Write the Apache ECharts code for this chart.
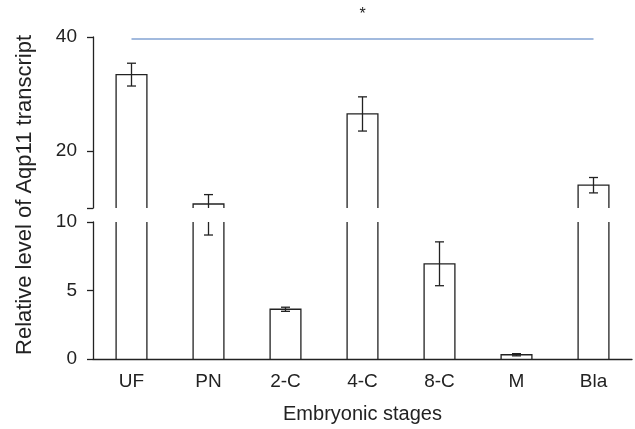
<!DOCTYPE html>
<html>
<head>
<meta charset="utf-8">
<script src="https://cdn.jsdelivr.net/npm/echarts@6/dist/echarts.min.js"></script>
<style>
  html, body { margin: 0; padding: 0; background: #fff; }
  #app { width: 635px; height: 429px; }
</style>
</head>
<body>
<div id="app"></div>
<script>
// 数据
const stages = ['UF', 'PN', '2-C', '4-C', '8-C', 'M', 'Bla'];
const means = [33.4, 10.7, 3.63, 26.5, 6.95, 0.31, 14.0];
const errs = [2.0, 1.65, 0.15, 3.0, 1.6, 0.08, 1.35];
const upperTicks = [10, 20, 40];
const upperLabels = [20, 40];
const lowerTicks = [0, 5, 10];
const sigPair = ['UF', 'Bla'];
const sigLevel = 39.7;

// 断轴范围
const upperMin = 10, upperMax = 40;
const lowerMin = 0, lowerMax = 10;

const ink = '#222';
const font = 'Liberation Sans, Arial, sans-serif';

// 画柱子（只画三条边，断开处不封口）
function barRenderer(min, max) {
    return function(params, api) {
        const i = api.value(0);
        const v = api.value(1);
        if (v <= min) return null;
        const w = api.size([1, 0])[0] * 0.4;
        const base = api.coord([i, min]);
        const top = api.coord([i, Math.min(v, max)]);
        const x0 = base[0] - w / 2, x1 = base[0] + w / 2;
        const style = { stroke: ink, lineWidth: 1.3, fill: 'none' };
        if (v > max) {
            return { type: 'group', children: [
                { type: 'line', shape: { x1: x0, y1: base[1], x2: x0, y2: top[1] }, style: style },
                { type: 'line', shape: { x1: x1, y1: base[1], x2: x1, y2: top[1] }, style: style }
            ] };
        }
        return {
            type: 'polyline',
            shape: { points: [[x0, base[1]], [x0, top[1]], [x1, top[1]], [x1, base[1]]] },
            style: style
        };
    };
}

// 画误差线
function errRenderer(min, max) {
    return function(params, api) {
        const i = api.value(0);
        const lo = api.value(1), hi = api.value(2);
        if (hi <= min || lo >= max) return null;
        const a = api.coord([i, Math.max(lo, min)]);
        const b = api.coord([i, Math.min(hi, max)]);
        const c = 4.5;
        const style = { stroke: ink, lineWidth: 1.3 };
        const kids = [{ type: 'line', shape: { x1: a[0], y1: a[1], x2: b[0], y2: b[1] }, style: style }];
        if (lo >= min) kids.push({ type: 'line', shape: { x1: a[0] - c, y1: a[1], x2: a[0] + c, y2: a[1] }, style: style });
        if (hi <= max) kids.push({ type: 'line', shape: { x1: b[0] - c, y1: b[1], x2: b[0] + c, y2: b[1] }, style: style });
        return { type: 'group', children: kids };
    };
}

const barData = stages.map((s, i) => [i, means[i]]);
const errData = stages.map((s, i) => [i, means[i] - errs[i], means[i] + errs[i]]);

const axisLineStyle = { color: ink, width: 1.3 };

const myChart = echarts.init(document.getElementById('app'));
myChart.setOption({
    animation: false,
    textStyle: { fontFamily: font },
    grid: [
        { left: 93, right: 3, top: 37, height: 171 },
        { left: 93, right: 3, top: 222, height: 137 }
    ],
    xAxis: [
        { gridIndex: 0, type: 'category', data: stages, show: false },
        {
            gridIndex: 1, type: 'category', data: stages,
            axisLine: { lineStyle: axisLineStyle },
            axisTick: { length: 6, lineStyle: axisLineStyle },
            axisLabel: { color: ink, fontSize: 19, margin: 13 },
            name: 'Embryonic stages', nameLocation: 'middle', nameGap: 45,
            nameTextStyle: { color: ink, fontSize: 20 }
        }
    ],
    yAxis: [
        {
            gridIndex: 0, type: 'value', min: upperMin, max: upperMax, interval: 10,
            splitLine: { show: false },
            axisLine: { show: true, lineStyle: axisLineStyle },
            axisTick: { show: true, length: 6, customValues: upperTicks, lineStyle: axisLineStyle },
            axisLabel: { customValues: upperLabels, color: ink, fontSize: 19, margin: 16 }
        },
        {
            gridIndex: 1, type: 'value', min: lowerMin, max: lowerMax, interval: 5,
            splitLine: { show: false },
            axisLine: { show: true, lineStyle: axisLineStyle },
            axisTick: { show: true, length: 6, customValues: lowerTicks, lineStyle: axisLineStyle },
            axisLabel: { customValues: lowerTicks, color: ink, fontSize: 19, margin: 16 }
        }
    ],
    graphic: [{
        type: 'text', rotation: Math.PI / 2,
        x: 25, y: 195,
        style: {
            text: 'Relative level of Aqp11 transcript',
            fill: ink, font: '22px ' + font,
            align: 'center', verticalAlign: 'middle'
        }
    }],
    series: [
        { type: 'custom', xAxisIndex: 0, yAxisIndex: 0, renderItem: barRenderer(upperMin, upperMax), data: barData, encode: { x: 0, y: 1 } },
        { type: 'custom', xAxisIndex: 1, yAxisIndex: 1, renderItem: barRenderer(lowerMin, lowerMax), data: barData, encode: { x: 0, y: 1 } },
        { type: 'custom', xAxisIndex: 0, yAxisIndex: 0, renderItem: errRenderer(upperMin, upperMax), data: errData, encode: { x: 0, y: [1, 2] } },
        { type: 'custom', xAxisIndex: 1, yAxisIndex: 1, renderItem: errRenderer(lowerMin, lowerMax), data: errData, encode: { x: 0, y: [1, 2] } },
        {
            type: 'line', xAxisIndex: 0, yAxisIndex: 0, data: [],
            markLine: {
                silent: true, symbol: 'none',
                lineStyle: { color: '#83a3d3', width: 1.6, type: 'solid' },
                label: { show: true, position: 'middle', formatter: '*', color: ink, fontSize: 16, distance: 16 },
                data: [[{ coord: [sigPair[0], sigLevel] }, { coord: [sigPair[1], sigLevel] }]]
            }
        }
    ]
});
</script>
</body>
</html>
